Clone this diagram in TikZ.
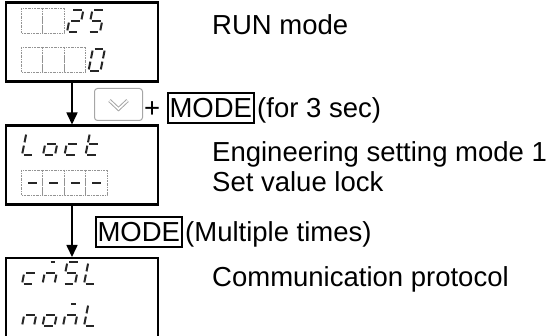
\documentclass[tikz,border=0pt]{standalone}
\usepackage{fontspec}
\setmainfont{Liberation Sans}
\usetikzlibrary{arrows.meta}
\def\segpa{(1.6,22)--(10.4,22)}
\def\segpb{(12,20.4)--(12,12.6)}
\def\segpc{(12,9.4)--(12,1.6)}
\def\segpd{(1.6,0)--(10.4,0)}
\def\segpe{(0,1.6)--(0,9.4)}
\def\segpf{(0,12.6)--(0,20.4)}
\def\segpg{(1.6,11)--(10.4,11)}
\def\segpm{(3.6,22)--(8.4,22)}
\newcommand\ssd[3]{%
  \begin{scope}[shift={(#1,-#2)},xslant=0.2]
    \foreach \s in {#3}{%
      \expandafter\let\expandafter\segpath\csname segp\s\endcsname
      \draw[segline] \segpath;}
  \end{scope}}
\newcommand\dcells[4]{% x, ytop, ybottom, n
  \foreach \i in {1,...,#4}{%
    \draw[dcell] ({#1+21.5*(\i-1)},-#2) rectangle ({#1+21.5*\i},-#3);}}
\tikzset{
  segline/.style={line width=2pt,line cap=butt,black!85},
  dcell/.style={gray!85,line width=0.7pt,dash pattern=on 2pt off 1pt on 0.6pt off 1pt},
  dispbox/.style={draw,line width=2.4pt,minimum width=152pt,inner sep=0pt,anchor=north west},
  lbl/.style={anchor=base west,inner sep=0pt,font=\fontsize{27.5}{33}\selectfont},
  keybox/.style={lbl,draw,line width=2pt,inner xsep=1.5pt,inner ysep=5.5pt},
  arr/.style={line width=1.6pt,-{Triangle[length=12pt,width=11pt]}},
  chev/.style={line join=miter},
}
\begin{document}
\begin{tikzpicture}[x=1pt,y=1pt]
\useasboundingbox (0,0) rectangle (549,-336);
\clip (0,0) rectangle (549,-336);
% display boxes
\node[dispbox,minimum height=79pt] (d1) at (5,-1.2) {};
\node[dispbox,minimum height=79pt] (d2) at (5,-124.5) {};
\node[dispbox,minimum height=90pt] (d3) at (5,-257) {};
% box 1 contents
\dcells{21}{8}{33}{2}
\ssd{67}{32}{a,b,g,e,d}
\ssd{88}{32}{a,f,g,c,d}
\dcells{21}{47}{72}{3}
\ssd{88.5}{71}{a,b,c,d,e,f}
% box 2 contents
\ssd{22}{155}{f,e,d}
\ssd{43}{155}{g,c,d,e}
\ssd{64.5}{155}{g,e,d}
\ssd{85.5}{155}{f,e,g,d}
\dcells{21}{170}{195}{4}
\foreach \i in {0,...,3}{\ssd{24+21.5*\i}{194}{g}}
% box 3 contents
\ssd{22}{284}{g,e,d}
\ssd{42.5}{284}{m,g,e,c}
\ssd{63}{284}{a,f,g,c,d}
\ssd{84}{284}{f,e,d}
\ssd{22}{326}{g,e,c}
\ssd{42.5}{326}{g,c,d,e}
\ssd{63}{326}{m,g,e,c}
\ssd{84}{326}{f,e,d}
% arrows
\coordinate (a1) at (72,-124.5);
\coordinate (a2) at (72,-257);
\draw[arr] (d1.south -| a1) -- (a1);
\draw[arr] (d2.south -| a2) -- (a2);
% key + MODE
\node[draw=gray!70,line width=1pt,rounded corners=3pt,minimum width=48pt,minimum height=32pt,inner sep=0pt,anchor=north west] (key) at (94,-88) {};
\draw[chev,gray!70,line width=3.6pt] ([shift={(-9,4)}]key.center) -- ([shift={(0,-4.5)}]key.center) -- ([shift={(9,4)}]key.center);
\draw[chev,white,line width=1.6pt] ([shift={(-9,4)}]key.center) -- ([shift={(0,-4.5)}]key.center) -- ([shift={(9,4)}]key.center);
\node[lbl] (plus) at (144,-117.5) {+};
\node[keybox] (mode1) at (167,-117.5) {MODE};
\node[lbl] (for3) at (257,-117.5) {(for 3 sec)};
\node[keybox] (mode2) at (95,-241.5) {MODE};
\node[lbl] (mult) at (185,-241.5) {(Multiple times)};
% labels
\node[lbl] (run) at (212,-35) {RUN mode};
\node[lbl] (eng) at (212,-162) {Engineering setting mode 1};
\node[lbl] (svl) at (212,-192) {Set value lock};
\node[lbl] (com) at (212,-287) {Communication protocol};
\end{tikzpicture}
\end{document}
